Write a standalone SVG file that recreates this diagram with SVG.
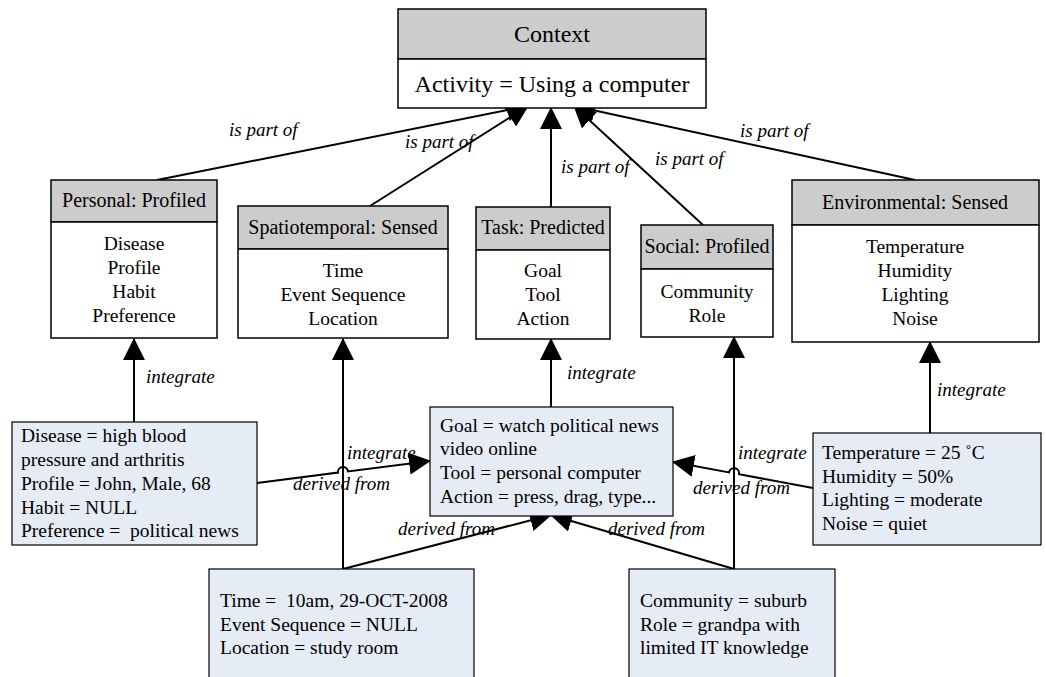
<svg xmlns="http://www.w3.org/2000/svg" width="1046" height="677" viewBox="0 0 1046 677">
  <style>
    text { font-family: "Liberation Serif", "Times New Roman", serif; fill: #000; }
    .title { font-size: 24px; text-anchor: middle; }
    .hdr { font-size: 20px; text-anchor: middle; }
    .body { font-size: 19.5px; text-anchor: middle; }
    .data { font-size: 19.5px; }
    .lbl { font-size: 19px; font-style: italic; }
    .box { fill: #ffffff; stroke: #000; stroke-width: 1.5; }
    .head { fill: #cccccc; stroke: #000; stroke-width: 1.5; }
    .inst { fill: #e6ecf6; stroke: #000; stroke-width: 1.2; }
    .edge { fill: none; stroke: #000; stroke-width: 2; }
  </style>
  <defs>
    <marker id="arrow" viewBox="0 0 22 22" refX="21" refY="11" markerWidth="22" markerHeight="22" markerUnits="userSpaceOnUse" orient="auto">
      <path d="M0,0 L22,11 L0,22 z" fill="#000"/>
    </marker>
  </defs>

  <rect width="1046" height="677" fill="#ffffff"/>

  <!-- connectors -->
  <g id="connectors">
    <!-- is part of -->
    <line class="edge" x1="157" y1="180" x2="528" y2="106" marker-end="url(#arrow)"/>
    <line class="edge" x1="370" y1="206" x2="528" y2="106" marker-end="url(#arrow)"/>
    <line class="edge" x1="551" y1="207" x2="551" y2="108" marker-end="url(#arrow)"/>
    <line class="edge" x1="703" y1="225" x2="574" y2="106" marker-end="url(#arrow)"/>
    <line class="edge" x1="915" y1="180" x2="574" y2="106" marker-end="url(#arrow)"/>
    <!-- integrate -->
    <line class="edge" x1="134" y1="422" x2="134" y2="339" marker-end="url(#arrow)"/>
    <line class="edge" x1="343" y1="569" x2="343" y2="339" marker-end="url(#arrow)"/>
    <line class="edge" x1="551" y1="407" x2="551" y2="339" marker-end="url(#arrow)"/>
    <line class="edge" x1="734" y1="569" x2="734" y2="337" marker-end="url(#arrow)"/>
    <line class="edge" x1="930" y1="433" x2="930" y2="342" marker-end="url(#arrow)"/>
    <!-- derived from (with line hops over the verticals) -->
    <path class="edge" d="M257,483 L338,472.6 A5,5 0 0 1 348,471.4 L430,461" marker-end="url(#arrow)"/>
    <path class="edge" d="M813,488 L739,474.2 A5,5 0 0 0 729,472.4 L673,462" marker-end="url(#arrow)"/>
    <line class="edge" x1="343" y1="569" x2="551" y2="515" marker-end="url(#arrow)"/>
    <line class="edge" x1="734" y1="569" x2="551" y2="515" marker-end="url(#arrow)"/>

    <text class="lbl" x="229" y="136">is part of</text>
    <text class="lbl" x="405" y="148">is part of</text>
    <text class="lbl" x="561" y="173">is part of</text>
    <text class="lbl" x="655" y="165">is part of</text>
    <text class="lbl" x="740" y="137">is part of</text>

    <text class="lbl" x="146" y="383">integrate</text>
    <text class="lbl" x="347" y="459">integrate</text>
    <text class="lbl" x="567" y="379">integrate</text>
    <text class="lbl" x="738" y="459">integrate</text>
    <text class="lbl" x="937" y="396">integrate</text>

    <text class="lbl" x="293" y="490">derived from</text>
    <text class="lbl" x="693" y="494">derived from</text>
    <text class="lbl" x="398" y="535">derived from</text>
    <text class="lbl" x="608" y="535">derived from</text>
  </g>

  <!-- context -->
  <g id="context">
    <rect class="head" x="398" y="9" width="308" height="50"/>
    <rect class="box" x="398" y="59" width="308" height="49"/>
    <text class="title" x="552" y="42">Context</text>
    <text class="title" x="552" y="92">Activity = Using a computer</text>
  </g>

  <g id="personal">
    <rect class="head" x="51" y="180" width="166" height="42"/>
    <rect class="box" x="51" y="222" width="166" height="116"/>
    <text class="hdr" x="134" y="207">Personal: Profiled</text>
    <text class="body" x="134" y="250">Disease</text>
    <text class="body" x="134" y="274">Profile</text>
    <text class="body" x="134" y="298">Habit</text>
    <text class="body" x="134" y="322">Preference</text>
  </g>

  <g id="spatiotemporal">
    <rect class="head" x="238" y="206" width="210" height="43"/>
    <rect class="box" x="238" y="249" width="210" height="89"/>
    <text class="hdr" x="343" y="234">Spatiotemporal: Sensed</text>
    <text class="body" x="343" y="277">Time</text>
    <text class="body" x="343" y="301">Event Sequence</text>
    <text class="body" x="343" y="325">Location</text>
  </g>

  <g id="task">
    <rect class="head" x="476" y="207" width="134" height="43"/>
    <rect class="box" x="476" y="250" width="134" height="89"/>
    <text class="hdr" x="543" y="234">Task: Predicted</text>
    <text class="body" x="543" y="277">Goal</text>
    <text class="body" x="543" y="301">Tool</text>
    <text class="body" x="543" y="325">Action</text>
  </g>

  <g id="social">
    <rect class="head" x="641" y="225" width="132" height="44"/>
    <rect class="box" x="641" y="269" width="132" height="68"/>
    <text class="hdr" x="707" y="253">Social: Profiled</text>
    <text class="body" x="707" y="298">Community</text>
    <text class="body" x="707" y="322">Role</text>
  </g>

  <g id="environmental">
    <rect class="head" x="792" y="180" width="247" height="45"/>
    <rect class="box" x="792" y="225" width="247" height="117"/>
    <text class="hdr" x="915" y="209">Environmental: Sensed</text>
    <text class="body" x="915" y="253">Temperature</text>
    <text class="body" x="915" y="277">Humidity</text>
    <text class="body" x="915" y="301">Lighting</text>
    <text class="body" x="915" y="325">Noise</text>
  </g>

  <!-- sensed / profiled instances -->
  <g id="personal-data">
    <rect class="inst" x="12" y="422" width="245" height="123"/>
    <text class="data" x="21" y="442">Disease = high blood</text>
    <text class="data" x="21" y="466">pressure and arthritis</text>
    <text class="data" x="21" y="490">Profile = John, Male, 68</text>
    <text class="data" x="21" y="514">Habit = NULL</text>
    <text class="data" x="21" y="537" xml:space="preserve">Preference =  political news</text>
  </g>

  <g id="task-data">
    <rect class="inst" x="430" y="407" width="243" height="109"/>
    <text class="data" x="440" y="432">Goal = watch political news</text>
    <text class="data" x="440" y="455">video online</text>
    <text class="data" x="440" y="479">Tool = personal computer</text>
    <text class="data" x="440" y="503">Action = press, drag, type...</text>
  </g>

  <g id="environmental-data">
    <rect class="inst" x="813" y="433" width="228" height="112"/>
    <text class="data" x="822" y="459">Temperature = 25 ˚C</text>
    <text class="data" x="822" y="483">Humidity = 50%</text>
    <text class="data" x="822" y="506">Lighting = moderate</text>
    <text class="data" x="822" y="530">Noise = quiet</text>
  </g>

  <g id="spatiotemporal-data">
    <rect class="inst" x="209" y="569" width="265" height="112"/>
    <text class="data" x="220" y="607" xml:space="preserve">Time =  10am, 29-OCT-2008</text>
    <text class="data" x="220" y="631">Event Sequence = NULL</text>
    <text class="data" x="220" y="654">Location = study room</text>
  </g>

  <g id="social-data">
    <rect class="inst" x="629" y="569" width="206" height="112"/>
    <text class="data" x="640" y="607">Community = suburb</text>
    <text class="data" x="640" y="631">Role = grandpa with</text>
    <text class="data" x="640" y="654">limited IT knowledge</text>
  </g>
</svg>
